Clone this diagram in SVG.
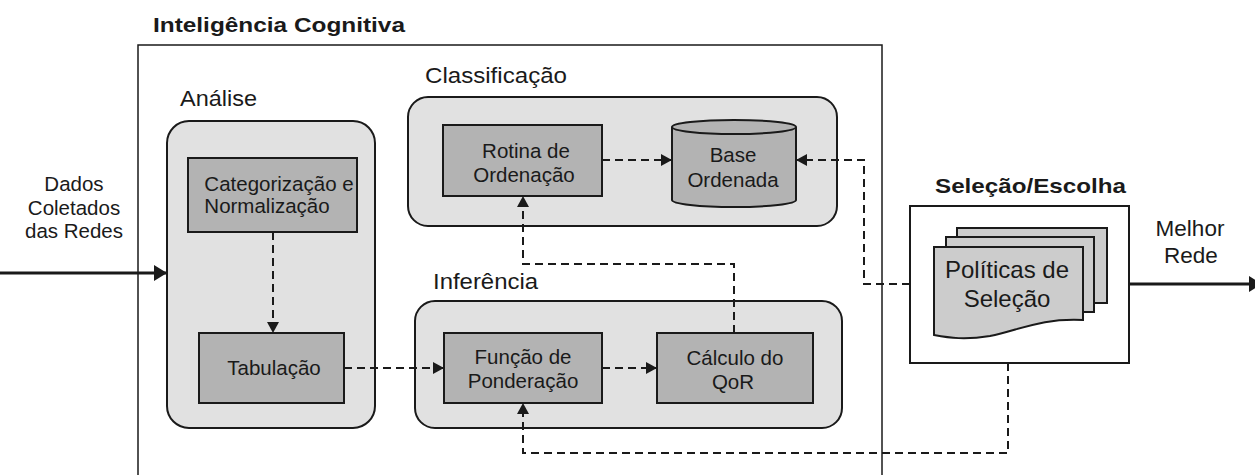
<svg xmlns="http://www.w3.org/2000/svg" width="1255" height="475" viewBox="0 0 1255 475">
<style>
text{font-family:"Liberation Sans",Arial,sans-serif;fill:#1a1a1a}
.b{font-size:20.5px;text-anchor:middle}
.sec{font-size:22px}
.ttl{font-size:21px;font-weight:bold}
.grp{fill:#e1e1e1;stroke:#1a1a1a;stroke-width:2}
.box{fill:#b3b3b3;stroke:#1a1a1a;stroke-width:2}
.dash{fill:none;stroke:#1a1a1a;stroke-width:2;stroke-dasharray:8 5}
.thick{fill:none;stroke:#1a1a1a;stroke-width:3}
</style>
<defs>
<marker id="ah" markerUnits="userSpaceOnUse" markerWidth="11" markerHeight="12" refX="11" refY="6" orient="auto"><path d="M0,0 L11,6 L0,12 z" fill="#1a1a1a"/></marker>
<marker id="ahb" markerUnits="userSpaceOnUse" markerWidth="13" markerHeight="16" refX="13" refY="8" orient="auto"><path d="M0,0 L13,8 L0,16 z" fill="#1a1a1a"/></marker>
</defs>

<g id="inteligencia">
<rect x="138" y="45" width="744" height="450" fill="#fff" stroke="#1a1a1a" stroke-width="1.5"/>
<text class="ttl" x="153" y="32" textLength="252" lengthAdjust="spacingAndGlyphs">Inteligência Cognitiva</text>
</g>

<g id="analise">
<text class="sec" x="180" y="106" textLength="77" lengthAdjust="spacingAndGlyphs">Análise</text>
<rect class="grp" x="167" y="121" width="208" height="307" rx="22"/>
</g>
<g id="categorizacao">
<rect class="box" x="188" y="158" width="169" height="74"/>
<text class="b" x="279" y="191">Categorização e</text>
<text class="b" x="267" y="213">Normalização</text>
</g>
<g id="tabulacao">
<rect class="box" x="199" y="333" width="145" height="70"/>
<text class="b" x="274" y="375">Tabulação</text>
</g>

<g id="classificacao">
<text class="sec" x="425" y="83" textLength="142" lengthAdjust="spacingAndGlyphs">Classificação</text>
<rect class="grp" x="408" y="97" width="429" height="129" rx="20"/>
</g>
<g id="rotina">
<rect class="box" x="443" y="125" width="159" height="71"/>
<text class="b" x="526" y="158">Rotina de</text>
<text class="b" x="524" y="182">Ordenação</text>
</g>
<g id="base">
<path d="M672,127 A62,7 0 0,1 796,127 V200 A62,7 0 0,1 672,200 Z" fill="#b3b3b3" stroke="#1a1a1a" stroke-width="2"/>
<path d="M672,127 A62,7 0 0,0 796,127" fill="none" stroke="#1a1a1a" stroke-width="2"/>
<text class="b" x="733" y="162">Base</text>
<text class="b" x="733" y="187">Ordenada</text>
</g>

<g id="inferencia">
<text class="sec" x="433" y="289" textLength="105" lengthAdjust="spacingAndGlyphs">Inferência</text>
<rect class="grp" x="415" y="301" width="427" height="127" rx="20"/>
</g>
<g id="funcao">
<rect class="box" x="444" y="333" width="158" height="70"/>
<text class="b" x="523" y="364">Função de</text>
<text class="b" x="523" y="388">Ponderação</text>
</g>
<g id="calculo">
<rect class="box" x="657" y="333" width="156" height="70"/>
<text class="b" x="735" y="365">Cálculo do</text>
<text class="b" x="733" y="389">QoR</text>
</g>

<g id="selecao">
<text class="ttl" x="935" y="193" textLength="191" lengthAdjust="spacingAndGlyphs">Seleção/Escolha</text>
<rect x="910" y="206" width="219" height="157" fill="#fff" stroke="#1a1a1a" stroke-width="2"/>
<rect x="957" y="228" width="150" height="75" fill="#cccccc" stroke="#1a1a1a" stroke-width="2"/>
<rect x="946" y="237" width="148" height="75" fill="#cccccc" stroke="#1a1a1a" stroke-width="2"/>
<path d="M934,247 H1083 V320 C1040,318 1020,330 990,336 C965,340 950,338 934,335 Z" fill="#cccccc" stroke="#1a1a1a" stroke-width="2"/>
<text x="1007" y="278" font-size="24" text-anchor="middle">Políticas de</text>
<text x="1007" y="307" font-size="24" text-anchor="middle">Seleção</text>
</g>

<g id="entrada">
<text class="b" x="74" y="191">Dados</text>
<text class="b" x="74" y="215">Coletados</text>
<text class="b" x="74" y="238">das Redes</text>
</g>
<g id="saida">
<text x="1190" y="236" font-size="22.5" text-anchor="middle">Melhor</text>
<text x="1191" y="263" font-size="22.5" text-anchor="middle">Rede</text>
</g>

<g id="connectors">
<path class="dash" d="M273,232 V333" marker-end="url(#ah)"/>
<path class="dash" d="M344,368 H444" marker-end="url(#ah)"/>
<path class="dash" d="M602,368 H657" marker-end="url(#ah)"/>
<path class="dash" d="M602,160 H672" marker-end="url(#ah)"/>
<path class="dash" d="M734,333 V264 H523 V196" marker-end="url(#ah)"/>
<path class="dash" d="M910,284 H864 V160 H796" marker-end="url(#ah)"/>
<path class="dash" d="M1008,363 V453 H523 V403" marker-end="url(#ah)"/>
<path class="thick" d="M0,273 H167" marker-end="url(#ahb)"/>
<path class="thick" d="M1129,284 H1262" marker-end="url(#ahb)"/>
</g>
</svg>
